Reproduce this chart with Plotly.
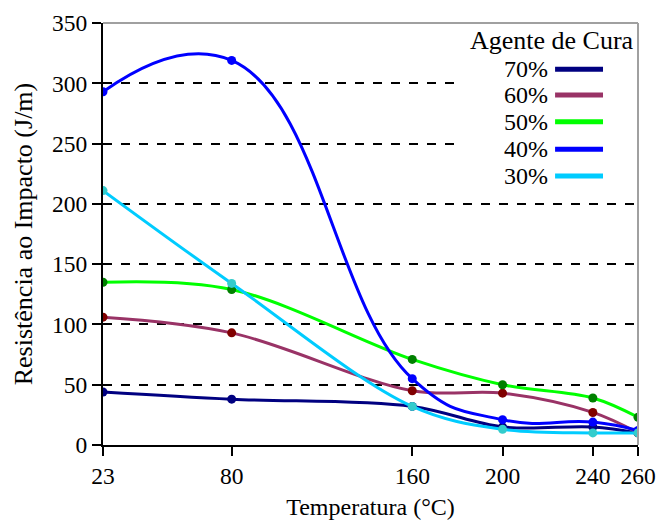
import plotly.graph_objects as go

temps = [23, 80, 160, 200, 240, 260]
series_names = ["70%", "60%", "50%", "40%", "30%"]
v70 = [44, 38, 32, 15, 15, 10]
v60 = [106, 93, 45, 43, 27, 10]
v50 = [135, 129, 71, 50, 39, 23]
v40 = [293, 319, 55, 21, 19, 12]
v30 = [211, 134, 32, 13, 10, 10]
values = [v70, v60, v50, v40, v30]
line_colors = ["#000080", "#993366", "#00FF00", "#0000FF", "#00CCFF"]
marker_colors = ["#000080", "#800000", "#008000", "#0000FF", "#33CCCC"]
smooth = [1.0, 1.0, 1.0, 1.3, 1.0]
yticks = [0, 50, 100, 150, 200, 250, 300, 350]

FONT = "Liberation Serif"
fig = go.Figure()
for name, vals, lc, mc, sm in zip(series_names, values, line_colors, marker_colors, smooth):
    fig.add_trace(go.Scatter(
        x=temps, y=vals, name=name, mode="lines+markers",
        line=dict(color=lc, width=3, shape="spline", smoothing=sm),
        marker=dict(color=mc, size=9),
        showlegend=False,
    ))
# invisible trace on overlay axis so inside ticks are drawn (crossing ticks)
fig.add_trace(go.Scatter(x=[temps[0]], y=[0], yaxis="y2", mode="markers",
                         marker=dict(opacity=0), showlegend=False, hoverinfo="skip"))

fig.update_layout(
    width=656, height=522,
    margin=dict(l=103, r=18, t=23, b=77),
    paper_bgcolor="white", plot_bgcolor="white",
    font=dict(family=FONT, size=22, color="black"),
    xaxis=dict(range=[23, 260], tickvals=temps, ticktext=[str(t) for t in temps],
               showgrid=False, zeroline=False, showline=True, linecolor="black",
               linewidth=2, ticks="outside", ticklen=9, tickwidth=1.5, tickcolor="black",
               automargin=False, tickfont=dict(family=FONT, size=23.5),
               title=dict(text="Temperatura (°C)", standoff=10,
                          font=dict(family=FONT, size=24, color="black"))),
    yaxis=dict(range=[0, 350], tickvals=yticks, showgrid=True, gridcolor="black",
               griddash="dash", gridwidth=1.5, zeroline=False, showline=True,
               linecolor="black", linewidth=2, ticks="outside", ticklen=9,
               tickwidth=1.5, tickcolor="black", automargin=False,
               tickfont=dict(family=FONT, size=23.5),
               title=dict(text="Resistência ao Impacto (J/m)", standoff=12,
                          font=dict(family=FONT, size=26, color="black"))),
    yaxis2=dict(range=[0, 350], overlaying="y", side="left", tickvals=yticks,
                showticklabels=False, showgrid=False, zeroline=False, showline=False,
                ticks="inside", ticklen=9, tickwidth=1.5, tickcolor="black",
                automargin=False),
)

# legend box (text left of line sample)
fig.add_shape(type="rect", xref="paper", yref="paper", x0=0.664, x1=1.0,
              y0=0.600, y1=1.0, fillcolor="white", line=dict(width=0), layer="above")

# plot frame (top and right) in gray
fig.add_shape(type="line", xref="paper", yref="paper", x0=0, x1=1, y0=1, y1=1,
              line=dict(color="#A0A0A0", width=2), layer="above")
fig.add_shape(type="line", xref="paper", yref="paper", x0=1, x1=1, y0=0, y1=1,
              line=dict(color="#A0A0A0", width=2), layer="above")

fig.add_annotation(xref="paper", yref="paper", x=0.996, y=0.958, text="Agente de Cura",
                   showarrow=False, xanchor="right", yanchor="middle",
                   font=dict(family=FONT, size=26))
row_y = [0.8903, 0.8294, 0.7661, 0.7007, 0.6374]
for name, c, yy in zip(series_names, line_colors, row_y):
    fig.add_annotation(xref="paper", yref="paper", x=0.8355, y=yy, text=name,
                       showarrow=False, xanchor="right", yanchor="middle",
                       font=dict(family=FONT, size=24))
    fig.add_shape(type="line", xref="paper", yref="paper", x0=0.845, x1=0.9346,
                  y0=yy, y1=yy, line=dict(color=c, width=5), layer="above")

fig.write_html("out.html", config={"displayModeBar": False},
               post_script="document.body.style.margin='0';")
